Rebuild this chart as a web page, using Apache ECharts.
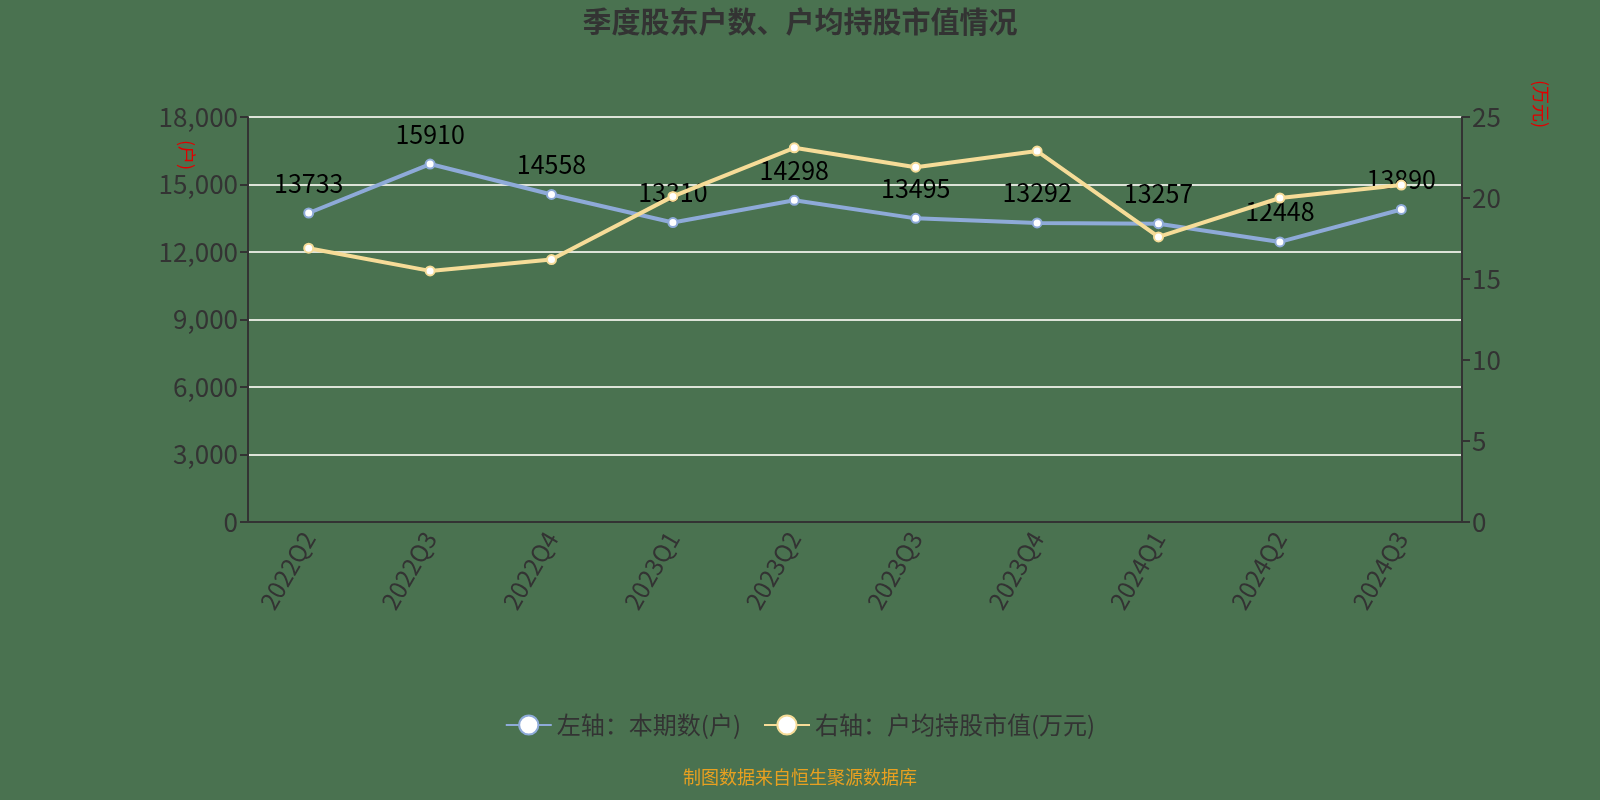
<!DOCTYPE html>
<html lang="zh-cn">
<head>
    <meta charset="UTF-8">
    <title>季度股东户数、户均持股市值情况</title>
    <script src="https://cdn.jsdelivr.net/npm/echarts@6/dist/echarts.min.js"></script>
    <style>
        html, body {margin: 0; padding: 0; background: #4a7250;}
    </style>
</head>
<body>

<div id="main" style="width: 1600px;height:800px;"></div>

<script>
    // 季度
    var quarters = ['2022Q2', '2022Q3', '2022Q4', '2023Q1', '2023Q2', '2023Q3', '2023Q4', '2024Q1', '2024Q2', '2024Q3'];
    // 左轴：本期数(户)
    var holders = [13733, 15910, 14558, 13310, 14298, 13495, 13292, 13257, 12448, 13890];
    // 右轴：户均持股市值(万元)
    var avgValue = [16.9, 15.5, 16.2, 20.1, 23.1, 21.9, 22.9, 17.6, 20.0, 20.8];

    var font = '"Noto Sans CJK SC", "Noto Sans", sans-serif';

    var myChart = echarts.init(document.getElementById('main'));

    var option = {
        backgroundColor: '#4a7250',
        animation: false,
        textStyle: {fontFamily: font},
        title: {
            text: '季度股东户数、户均持股市值情况',
            left: 'center',
            top: 2,
            textStyle: {fontSize: 29, fontWeight: 'bold', color: '#333', fontFamily: font}
        },
        legend: {
            bottom: 58,
            left: 'center',
            itemWidth: 46,
            itemHeight: 24,
            itemGap: 22,
            textStyle: {fontSize: 24, color: '#333', fontFamily: font},
            data: ['左轴：本期数(户)', '右轴：户均持股市值(万元)']
        },
        graphic: [{
            type: 'text',
            left: 'center',
            bottom: 14,
            style: {text: '制图数据来自恒生聚源数据库', fill: '#e8a020', fontSize: 18, fontFamily: font}
        }, {
            // 左轴单位
            type: 'text',
            x: 187,
            y: 140,
            rotation: -Math.PI / 2,
            style: {text: '(户)', fill: '#e00000', fontSize: 18, fontFamily: font, align: 'left', verticalAlign: 'middle'}
        }, {
            // 右轴单位
            type: 'text',
            x: 1541,
            y: 80,
            rotation: -Math.PI / 2,
            style: {text: '(万元)', fill: '#e00000', fontSize: 18, fontFamily: font, align: 'left', verticalAlign: 'middle'}
        }],
        grid: {
            left: 248,
            right: 138,
            top: 117,
            bottom: 278
        },
        xAxis: {
            type: 'category',
            data: quarters,
            axisLine: {lineStyle: {color: '#333', width: 2}},
            axisTick: {lineStyle: {color: '#333', width: 2}, length: 8},
            axisLabel: {rotate: 60, fontSize: 24, color: '#333', margin: 12}
        },
        yAxis: [{
            type: 'value',
            min: 0,
            max: 18000,
            interval: 3000,
            axisLine: {show: true, lineStyle: {color: '#333', width: 2}},
            axisTick: {show: true, lineStyle: {color: '#333', width: 2}, length: 8},
            axisLabel: {fontSize: 26, color: '#333', margin: 10},
            splitLine: {lineStyle: {color: '#dde3d8', width: 2}}
        }, {
            type: 'value',
            min: 0,
            max: 25,
            interval: 5,
            axisLine: {show: true, lineStyle: {color: '#333', width: 2}},
            axisTick: {show: true, lineStyle: {color: '#333', width: 2}, length: 8},
            axisLabel: {fontSize: 26, color: '#333', margin: 10},
            splitLine: {show: false}
        }],
        series: [{
            name: '左轴：本期数(户)',
            type: 'line',
            yAxisIndex: 0,
            data: holders,
            symbol: 'circle',
            symbolSize: 9,
            color: '#8eaad8',
            lineStyle: {width: 4, color: '#8eaad8'},
            itemStyle: {color: '#fff', borderColor: '#8eaad8', borderWidth: 2},
            label: {
                show: true,
                position: 'top',
                distance: 12,
                fontSize: 25,
                color: '#000',
                fontFamily: font
            },
            z: 2
        }, {
            name: '右轴：户均持股市值(万元)',
            type: 'line',
            yAxisIndex: 1,
            data: avgValue,
            symbol: 'circle',
            symbolSize: 9,
            color: '#f6dc98',
            lineStyle: {width: 4, color: '#f6dc98'},
            itemStyle: {color: '#fff', borderColor: '#f6dc98', borderWidth: 2},
            z: 3
        }]
    };

    myChart.setOption(option);
</script>

</body>
</html>
